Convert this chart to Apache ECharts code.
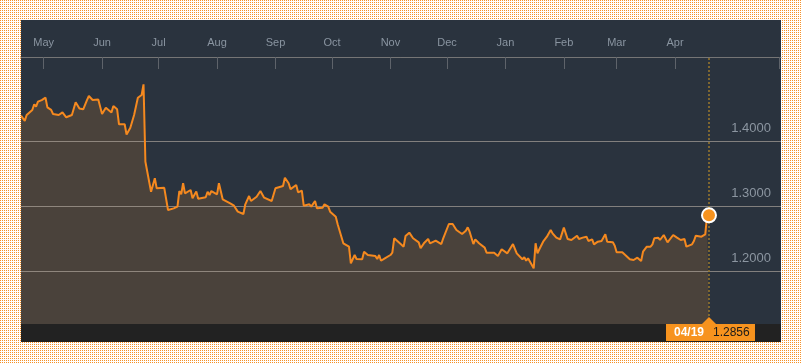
<!DOCTYPE html>
<html><head><meta charset="utf-8">
<script src="https://cdn.jsdelivr.net/npm/echarts@6/dist/echarts.min.js"></script>
<style>
html,body{margin:0;padding:0;}
body{width:801px;height:363px;overflow:hidden;background-color:#fff;position:relative;}
#panel{position:absolute;left:21px;top:20px;width:760px;height:322px;background:#2a333e;}
#strip{position:absolute;left:21px;top:324px;width:760px;height:18px;background:#222222;}
#chart{position:absolute;left:0;top:0;width:801px;height:363px;}
</style></head><body>
<div id="panel"></div><div id="strip"></div><div id="chart"></div>
<script>
const dates = [
'2016-04-19','2016-04-21','2016-04-22','2016-04-25','2016-04-26','2016-04-27','2016-04-28','2016-04-30',
'2016-05-02','2016-05-03','2016-05-05','2016-05-06','2016-05-09','2016-05-11','2016-05-12','2016-05-13',
'2016-05-16','2016-05-18','2016-05-20','2016-05-22','2016-05-24','2016-05-25','2016-05-27','2016-05-30',
'2016-06-01','2016-06-03','2016-06-06','2016-06-07','2016-06-09','2016-06-10','2016-06-13','2016-06-14',
'2016-06-16','2016-06-18','2016-06-20','2016-06-21','2016-06-22','2016-06-23','2016-06-24','2016-06-27',
'2016-06-29','2016-06-30','2016-07-04','2016-07-06','2016-07-07','2016-07-09','2016-07-11','2016-07-12',
'2016-07-13','2016-07-14','2016-07-15','2016-07-18','2016-07-19','2016-07-21','2016-07-22','2016-07-26',
'2016-07-27','2016-07-28','2016-07-29','2016-08-01','2016-08-02','2016-08-04','2016-08-08','2016-08-10',
'2016-08-12','2016-08-15','2016-08-16','2016-08-17','2016-08-18','2016-08-19','2016-08-22','2016-08-24',
'2016-08-26','2016-08-30','2016-09-01','2016-09-02','2016-09-05','2016-09-06','2016-09-08','2016-09-09',
'2016-09-12','2016-09-13','2016-09-15','2016-09-16','2016-09-19','2016-09-20','2016-09-22','2016-09-23',
'2016-09-26','2016-09-27','2016-09-29','2016-09-30','2016-10-03','2016-10-04','2016-10-05','2016-10-07',
'2016-10-10','2016-10-11','2016-10-13','2016-10-14','2016-10-17','2016-10-18','2016-10-20','2016-10-21',
'2016-10-24','2016-10-25','2016-10-26','2016-10-27','2016-10-29','2016-11-01','2016-11-02','2016-11-03',
'2016-11-06','2016-11-08','2016-11-09','2016-11-11','2016-11-13','2016-11-16','2016-11-17','2016-11-19',
'2016-11-21','2016-11-22','2016-11-25','2016-11-28','2016-11-29','2016-11-30','2016-12-02','2016-12-04',
'2016-12-06','2016-12-09','2016-12-11','2016-12-12','2016-12-13','2016-12-15','2016-12-16','2016-12-18',
'2016-12-21','2016-12-22','2016-12-26','2016-12-28','2016-12-30','2017-01-02','2017-01-03','2017-01-05',
'2017-01-07','2017-01-10','2017-01-11','2017-01-12','2017-01-13','2017-01-16','2017-01-17','2017-01-18',
'2017-01-19','2017-01-21','2017-01-22','2017-01-23','2017-01-25','2017-01-26','2017-01-28','2017-01-30',
'2017-02-01','2017-02-03','2017-02-05','2017-02-08','2017-02-09','2017-02-11','2017-02-13','2017-02-14',
'2017-02-16','2017-02-17','2017-02-19','2017-02-21','2017-02-23','2017-02-24','2017-02-27','2017-02-28',
'2017-03-01','2017-03-02','2017-03-04','2017-03-06','2017-03-08','2017-03-10','2017-03-12','2017-03-14',
'2017-03-15','2017-03-17','2017-03-19','2017-03-20','2017-03-21','2017-03-23','2017-03-24','2017-03-26',
'2017-03-28','2017-03-29','2017-03-31','2017-04-02','2017-04-04','2017-04-05','2017-04-06','2017-04-07',
'2017-04-10','2017-04-11','2017-04-12','2017-04-13','2017-04-15','2017-04-17','2017-04-18','2017-04-19'
];
const values = [
1.4389,1.4310,1.4400,1.4477,1.4565,1.4528,1.4605,1.4630,
1.4666,1.4518,1.4480,1.4415,1.4400,1.4440,1.4440,1.4365,
1.4400,1.4595,1.4500,1.4488,1.4630,1.4692,1.4630,1.4640,
1.4415,1.4513,1.4440,1.4538,1.4488,1.4257,1.4257,1.4100,
1.4205,1.4400,1.4666,1.4646,1.4708,1.4872,1.3680,1.3220,
1.3426,1.3272,1.3280,1.2938,1.2913,1.2964,1.2990,1.3230,
1.3180,1.3350,1.3195,1.3246,1.3120,1.3225,1.3110,1.3134,
1.3220,1.3170,1.3230,1.3180,1.3350,1.3103,1.3040,1.3005,
1.2913,1.2877,1.3026,1.3050,1.3154,1.3077,1.3143,1.3230,
1.3128,1.3077,1.3272,1.3297,1.3308,1.3435,1.3350,1.3260,
1.3323,1.3210,1.3236,1.3005,1.3026,1.2990,1.3077,1.2964,
1.2974,1.3026,1.2990,1.2913,1.2836,1.2718,1.2733,1.2426,
1.2374,1.2118,1.2246,1.2185,1.2180,1.2297,1.2246,1.2231,
1.2231,1.2185,1.2246,1.2158,1.2195,1.2246,1.2282,1.2503,
1.2426,1.2374,1.2538,1.2590,1.2503,1.2441,1.2349,1.2436,
1.2492,1.2426,1.2466,1.2415,1.2503,1.2528,1.2723,1.2723,
1.2631,1.2569,1.2620,1.2672,1.2605,1.2415,1.2487,1.2426,
1.2359,1.2282,1.2282,1.2231,1.2334,1.2272,1.2246,1.2415,
1.2272,1.2180,1.2211,1.2158,1.2195,1.2041,1.2426,1.2272,
1.2334,1.2451,1.2477,1.2528,1.2630,1.2580,1.2513,1.2487,
1.2667,1.2492,1.2477,1.2543,1.2492,1.2513,1.2528,1.2462,
1.2487,1.2410,1.2451,1.2462,1.2564,1.2451,1.2441,1.2390,
1.2287,1.2282,1.2287,1.2236,1.2180,1.2169,1.2205,1.2154,
1.2297,1.2374,1.2374,1.2410,1.2503,1.2513,1.2477,1.2554,
1.2441,1.2441,1.2554,1.2513,1.2477,1.2462,1.2492,1.2374,
1.2410,1.2462,1.2543,1.2513,1.2528,1.2564,1.2846,1.2856
];
const monthTicks = ['2016-05-01','2016-06-01','2016-07-01','2016-08-01','2016-09-01','2016-10-01',
  '2016-11-01','2016-12-01','2017-01-01','2017-02-01','2017-03-01','2017-04-01'];
const monthNames = ['Jan','Feb','Mar','Apr','May','Jun','Jul','Aug','Sep','Oct','Nov','Dec'];
const yGridValues = [1.2, 1.3, 1.4];
const yMin = 1.11846;
const yMax = 1.52923;
const DAY = 86400000;
const axisSpanDays = 403.2;

// dotted page background (1px orange dot every 2px)
(function(){
  const c = document.createElement('canvas'); c.width = 2; c.height = 2;
  const g = c.getContext('2d');
  g.fillStyle = '#ffffff'; g.fillRect(0, 0, 2, 2);
  g.fillStyle = '#f5922a'; g.fillRect(0, 0, 1, 1);
  document.body.style.backgroundImage = 'url(' + c.toDataURL() + ')';
  document.body.style.backgroundRepeat = 'repeat';
  document.body.style.imageRendering = 'pixelated';
})();

function toTime(s){ const p = s.split('-').map(Number); return new Date(p[0], p[1]-1, p[2]).getTime(); }
const xMin = toTime(dates[0]);
const xMax = xMin + axisSpanDays * DAY;
const lastDate = dates[dates.length-1];
const lastValue = values[values.length-1];
const seriesData = dates.map((d,i)=>[toTime(d), values[i]]);
const monthTickTimes = monthTicks.map(toTime);
const tickTimes = monthTickTimes.concat([xMax - DAY]);

const chart = echarts.init(document.getElementById('chart'), null, {renderer:'canvas'});
const FONT = '"Liberation Sans", Arial, sans-serif';
chart.setOption({
  backgroundColor: 'transparent',
  animation: false,
  grid: {left: 21, right: 20, top: 57, bottom: 39, containLabel: false},
  xAxis: {
    type: 'value', position: 'top', min: xMin, max: xMax, scale: true,
    axisLine: {show: true, lineStyle: {color: '#757575', width: 1}},
    axisTick: {show: true, inside: true, length: 12, customValues: tickTimes,
      lineStyle: {color: '#5e636a', width: 1}},
    axisLabel: {color: '#8a95a1', fontSize: 11, fontFamily: FONT, margin: 9,
      customValues: monthTickTimes, showMinLabel: true, showMaxLabel: true,
      formatter: v => monthNames[new Date(v).getMonth()]},
    splitLine: {show: false}
  },
  yAxis: {
    type: 'value', position: 'right', min: yMin, max: yMax,
    axisLine: {show: false}, axisTick: {show: false}, splitLine: {show: false},
    axisLabel: {inside: true, margin: 10, color: '#8c96a1', fontSize: 13, fontFamily: FONT,
      verticalAlign: 'bottom', lineHeight: 25,
      formatter: v => yGridValues.some(g => Math.abs(g - v) < 1e-7) ? v.toFixed(4) : ''}
  },
  series: [
    {
      type: 'line', data: seriesData, showSymbol: false, symbol: 'none', z: 2,
      lineStyle: {width: 0, color: 'transparent'},
      areaStyle: {color: '#4a423b', opacity: 1, origin: 'start'},
      silent: true,
      markLine: {silent: true, symbol: 'none', label: {show: false},
        lineStyle: {color: 'rgba(190,180,170,0.6)', width: 1, type: 'solid'},
        emphasis: {disabled: true},
        data: yGridValues.map(v => ({yAxis: v}))}
    },
    {
      type: 'line', data: seriesData, showSymbol: false, symbol: 'none', z: 6, silent: true,
      lineStyle: {width: 2, color: '#f5891f'}
    },
    {
      type: 'scatter', data: [[toTime(lastDate), lastValue]], z: 8, silent: true,
      symbol: 'circle', symbolSize: 14,
      itemStyle: {color: '#f7931e', borderColor: '#ffffff', borderWidth: 2, opacity: 1},
      markLine: {silent: true, symbol: 'none', label: {show: false},
        lineStyle: {color: '#9c7a2c', width: 1.5, type: [2, 2]},
        emphasis: {disabled: true},
        data: [{xAxis: toTime(lastDate)}]}
    }
  ]
});

const pt = chart.convertToPixel({gridIndex: 0}, [toTime(lastDate), lastValue]);
const bottomY = chart.convertToPixel({yAxisIndex: 0}, yMin);
const px = pt[0];
const dp = lastDate.split('-');
chart.setOption({
  graphic: [
    {type: 'polygon', z: 100, shape: {points: [[px-7, bottomY], [px+7, bottomY], [px, bottomY-7]]}, style: {fill: '#f7931e'}},
    {type: 'rect', z: 100, shape: {x: px-43, y: bottomY, width: 89, height: 17}, style: {fill: '#f7931e'}},
    {type: 'text', z: 101, x: px-35, y: bottomY+9, style: {text: dp[1] + '/' + dp[2], fill: '#ffffff', font: 'bold 12px ' + FONT, verticalAlign: 'middle'}},
    {type: 'text', z: 101, x: px+4, y: bottomY+9, style: {text: lastValue.toFixed(4), fill: '#1a1a1a', font: '12px ' + FONT, verticalAlign: 'middle'}}
  ]
});
</script></body></html>
